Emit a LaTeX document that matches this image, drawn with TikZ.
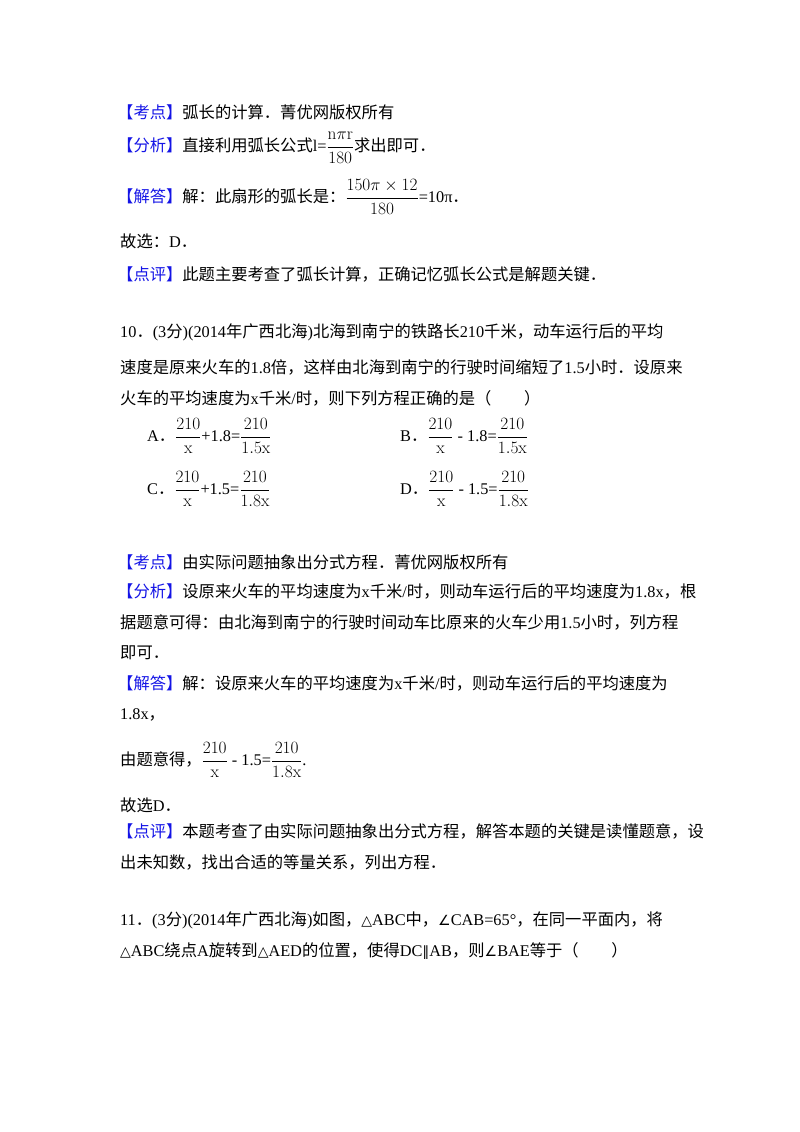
\documentclass[tikz,border=0pt]{standalone}
\usepackage{amsmath}
\usepackage[no-math]{fontspec}
\setmainfont{Noto Sans CJK SC}
\newfontfamily\latn{Liberation Serif}
\newfontfamily\sym{DejaVu Sans}
\definecolor{tagblue}{RGB}{20,20,230}
\begin{document}
\begin{tikzpicture}[x=1pt,y=-1pt,
  ln/.style={anchor=west,inner sep=0pt,font=\fontsize{16.3}{19}\selectfont}]
\useasboundingbox (0,0) rectangle (800,1132);
\newcommand{\tg}[1]{\textcolor{tagblue}{【#1】}}
\newcommand{\fr}[2]{$\dfrac{\mathrm{#1}}{\mathrm{#2}}$}
\newcommand{\sy}[1]{{\sym\fontsize{14}{16}\selectfont #1}}
\node[ln] (l1) at (117,112) {\tg{考点}弧长的计算．菁优网版权所有};
\node[ln] (l2) at (117,148) {\tg{分析}直接利用弧长公式{\latn l=}{\fr{n\pi r}{180}}求出即可．};
\node[ln] (l3) at (117,197) {\tg{解答}解：此扇形的弧长是：{\fr{150\pi\times12}{180}}{\latn =10π}．};
\node[ln] (l4) at (120,241) {故选：{\latn D}．};
\node[ln] (l5) at (117,274) {\tg{点评}此题主要考查了弧长计算，正确记忆弧长公式是解题关键．};
\node[ln] (l6) at (120,332) {{\latn 10}．{\latn (3}分{\latn )(2014}年广西北海{\latn )}北海到南宁的铁路长{\latn 210}千米，动车运行后的平均};
\node[ln] (l7) at (120,367) {速度是原来火车的{\latn 1.8}倍，这样由北海到南宁的行驶时间缩短了{\latn 1.5}小时．设原来};
\node[ln] (l8) at (120,398) {火车的平均速度为{\latn x}千米{\latn /}时，则下列方程正确的是（\qquad）};
\node[ln] (a) at (147,436) {{\latn A}．\fr{210}{x}{\latn +1.8=}\fr{210}{1.5x}};
\node[ln] (b) at (400,436) {{\latn B}．\fr{210}{x}{\latn\ - 1.8=}\fr{210}{1.5x}};
\node[ln] (c) at (147,489) {{\latn C}．\fr{210}{x}{\latn +1.5=}\fr{210}{1.8x}};
\node[ln] (d) at (400,489) {{\latn D}．\fr{210}{x}{\latn\ - 1.5=}\fr{210}{1.8x}};
\node[ln] (m1) at (117,562) {\tg{考点}由实际问题抽象出分式方程．菁优网版权所有};
\node[ln] (m2) at (117,591) {\tg{分析}设原来火车的平均速度为{\latn x}千米{\latn /}时，则动车运行后的平均速度为{\latn 1.8x}，根};
\node[ln] (m3) at (120,622) {据题意可得：由北海到南宁的行驶时间动车比原来的火车少用{\latn 1.5}小时，列方程};
\node[ln] (m4) at (120,653) {即可．};
\node[ln] (m5) at (117,683) {\tg{解答}解：设原来火车的平均速度为{\latn x}千米{\latn /}时，则动车运行后的平均速度为};
\node[ln] (m6) at (120,715) {{\latn 1.8x}，};
\node[ln] (m7) at (120,760) {由题意得，\fr{210}{x}{\latn\ - 1.5=}\fr{210}{1.8x}{\latn .}};
\node[ln] (m8) at (120,805) {故选{\latn D}．};
\node[ln] (m9) at (117,831) {\tg{点评}本题考查了由实际问题抽象出分式方程，解答本题的关键是读懂题意，设};
\node[ln] (m10) at (120,862) {出未知数，找出合适的等量关系，列出方程．};
\node[ln] (n1) at (120,920) {{\latn 11}．{\latn (3}分{\latn )(2014}年广西北海{\latn )}如图，\sy{△}{\latn ABC}中，\sy{∠}{\latn CAB=65°}，在同一平面内，将};
\node[ln] (n2) at (120,951) {\sy{△}{\latn ABC}绕点{\latn A}旋转到\sy{△}{\latn AED}的位置，使得{\latn DC}\sy{∥}{\latn AB}，则\sy{∠}{\latn BAE}等于（\qquad）};
\end{tikzpicture}
\end{document}
